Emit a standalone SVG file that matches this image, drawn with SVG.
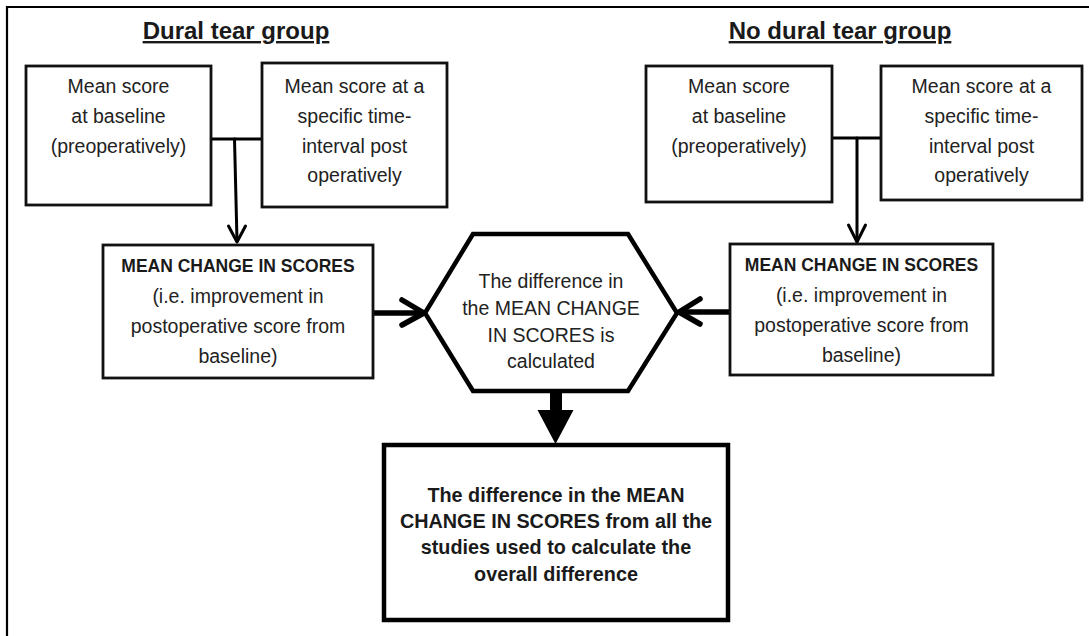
<svg xmlns="http://www.w3.org/2000/svg" width="1089" height="636" viewBox="0 0 1089 636">
<style>
.box{fill:#fff;stroke:#111;stroke-width:2.8}
.thick{fill:#fff;stroke:#000;stroke-width:4.5}
.t{font-family:"Liberation Sans",Arial,sans-serif;font-size:19.5px;fill:#222;text-anchor:middle}
.b{font-family:"Liberation Sans",Arial,sans-serif;font-weight:bold;font-size:17.5px;fill:#1a1a1a;text-anchor:middle}
.bb{font-family:"Liberation Sans",Arial,sans-serif;font-weight:bold;font-size:19.8px;fill:#1a1a1a;text-anchor:middle}
.title{font-family:"Liberation Sans",Arial,sans-serif;font-weight:bold;font-size:24px;fill:#1a1a1a;text-anchor:middle;text-decoration:underline}
.line{fill:none;stroke:#000;stroke-width:3;stroke-linecap:round;stroke-linejoin:round}
.hline{fill:none;stroke:#000;stroke-width:5.5;stroke-linecap:round;stroke-linejoin:round}
</style>
<rect width="1089" height="636" fill="#fff"/>
<g id="frame">
<path d="M7 636 V7 H1089" fill="none" stroke="#000" stroke-width="2.2"/>
</g>
<g id="title-left"><text class="title" x="236" y="39">Dural tear group</text></g>
<g id="title-right"><text class="title" x="840" y="39">No dural tear group</text></g>

<g id="connectors">
<path class="line" d="M211 139 H262"/>
<path class="line" d="M234.5 139 L237 241"/>
<path class="line" d="M228.5 226 L237 242 L245.5 226"/>
<path class="line" d="M833 138 H881"/>
<path class="line" d="M857 138 V241"/>
<path class="line" d="M848.5 225 L857 242 L865.5 225"/>
<path class="hline" d="M373 313 H421"/>
<path class="hline" d="M402 300 L424 313 L402 325"/>
<path class="hline" d="M730 312 H682"/>
<path class="hline" d="M700 299 L679 312 L700 324"/>
<path d="M550 392 H562 V410 H573.5 L555.5 444 L537.5 410 H550 Z" fill="#000"/>
</g>

<g id="box-left-baseline">
<rect class="box" x="26" y="66" width="185" height="139"/>
<text class="t" x="118.5" y="93">Mean score</text>
<text class="t" x="118.5" y="123">at baseline</text>
<text class="t" x="118.5" y="153">(preoperatively)</text>
</g>
<g id="box-left-post">
<rect class="box" x="262" y="63" width="185" height="144"/>
<text class="t" x="354.5" y="93">Mean score at a</text>
<text class="t" x="354.5" y="123">specific time-</text>
<text class="t" x="354.5" y="153">interval post</text>
<text class="t" x="354.5" y="182">operatively</text>
</g>
<g id="box-right-baseline">
<rect class="box" x="646" y="66" width="186" height="136"/>
<text class="t" x="739" y="93">Mean score</text>
<text class="t" x="739" y="123">at baseline</text>
<text class="t" x="739" y="153">(preoperatively)</text>
</g>
<g id="box-right-post">
<rect class="box" x="881" y="66" width="201" height="134"/>
<text class="t" x="981.5" y="93">Mean score at a</text>
<text class="t" x="981.5" y="123">specific time-</text>
<text class="t" x="981.5" y="153">interval post</text>
<text class="t" x="981.5" y="182">operatively</text>
</g>

<g id="change-left">
<rect class="box" x="103" y="245" width="270" height="133"/>
<text class="b" x="238" y="272">MEAN CHANGE IN SCORES</text>
<text class="t" x="238" y="303">(i.e. improvement in</text>
<text class="t" x="238" y="333">postoperative score from</text>
<text class="t" x="238" y="363">baseline)</text>
</g>
<g id="change-right">
<rect class="box" x="730" y="244" width="263" height="131"/>
<text class="b" x="861.5" y="271">MEAN CHANGE IN SCORES</text>
<text class="t" x="861.5" y="302">(i.e. improvement in</text>
<text class="t" x="861.5" y="332">postoperative score from</text>
<text class="t" x="861.5" y="362">baseline)</text>
</g>

<g id="hexagon">
<polygon class="thick" points="425,313 473,234 628,234 677,313 628,391 473,391"/>
<text class="t" x="551" y="288">The difference in</text>
<text class="t" x="551" y="315">the MEAN CHANGE</text>
<text class="t" x="551" y="342">IN SCORES is</text>
<text class="t" x="551" y="368">calculated</text>
</g>

<g id="result">
<rect class="thick" x="384" y="445" width="344" height="175"/>
<text class="bb" x="556" y="502">The difference in the MEAN</text>
<text class="bb" x="556" y="528">CHANGE IN SCORES from all the</text>
<text class="bb" x="556" y="554">studies used to calculate the</text>
<text class="bb" x="556" y="581">overall difference</text>
</g>
</svg>
